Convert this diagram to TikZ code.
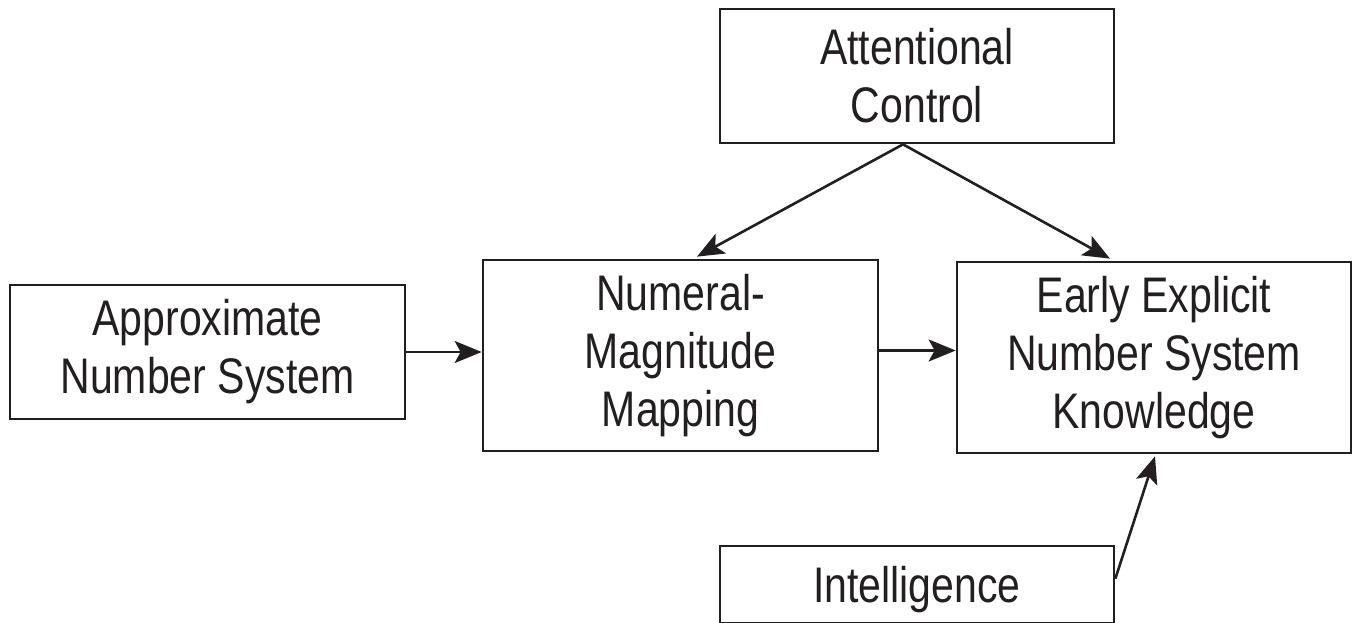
\documentclass[tikz,border=0pt]{standalone}
\usepackage{fontspec}
\setmainfont{Liberation Sans}[FakeStretch=0.82]
\usetikzlibrary{arrows.meta}
\definecolor{ink}{HTML}{231F20}
\begin{document}
\begin{tikzpicture}[x=1pt,y=1pt,
  box/.style={draw=ink, line width=2.7pt, rectangle, align=center, text=ink,
    inner sep=0pt, font=\fontsize{50}{58}\selectfont},
  conn/.style={draw=ink, line width=2.6pt, -{Stealth[length=27pt,width=22pt,inset=6pt]}}]
\useasboundingbox (0,0) rectangle (1358,622);
\clip (0,0) rectangle (1358,622);
\fill[white] (0,0) rectangle (1358,622);
\node[box, minimum width=394pt, minimum height=134pt] (att) at (917,546) {Attentional\\Control};
\node[box, minimum width=395pt, minimum height=134pt] (ans) at (207.5,270) {Approximate\\Number System};
\node[box, minimum width=395pt, minimum height=191pt] (nmm) at (680.5,266.5) {Numeral-\\Magnitude\\Mapping};
\node[box, minimum width=394pt, minimum height=191pt] (een) at (1154,264.5) {Early Explicit\\Number System\\Knowledge};
\node[box, minimum width=394pt, minimum height=77pt, text height=36pt, text depth=0pt] (int) at (917,37.5) {Intelligence};
\coordinate (ao) at ([xshift=-14pt]att.south);
\draw[conn] (ao) -- ([xshift=16.5pt,yshift=2pt]nmm.north);
\draw[conn] (ao) -- ([xshift=-44pt,yshift=2pt]een.north);
\draw[conn] (ans.east) -- (ans.east -| nmm.west);
\draw[conn] ([yshift=5pt]nmm.east) -- ([yshift=5pt]nmm.east -| een.west);
\draw[conn] ([yshift=-34pt]int.north east) -- ([xshift=1pt,yshift=-2pt]een.south);
\end{tikzpicture}
\end{document}
